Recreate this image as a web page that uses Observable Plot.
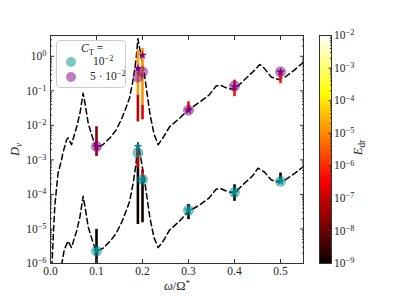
<!DOCTYPE html>
<html>
<head>
<meta charset="utf-8">
<script src="https://cdn.jsdelivr.net/npm/d3@7"></script>
<script src="https://cdn.jsdelivr.net/npm/@observablehq/plot@0.6"></script>
<style>
  body { margin: 0; background: #fff; }
  #wrap { position: relative; width: 407px; height: 296px; font-family: "Liberation Serif", serif; color: #222; }
  #wrap svg { position: absolute; left: 0; top: 0; }
  .lab { position: absolute; font-size: 12.5px; white-space: nowrap; line-height: 14px; }
  .lab i { font-style: italic; }
  #legend { position: absolute; left: 56px; top: 40px; width: 68px; height: 46px; border: 1px solid #ccc; border-radius: 4px; background: rgba(255,255,255,0.85); font-size: 11.5px; }
  #legend .sw { position: absolute; width: 10px; height: 10px; border-radius: 50%; }
  #legend .t { position: absolute; white-space: nowrap; }
  sup { font-size: 0.72em; vertical-align: 0; position: relative; top: -0.45em; }
  sub { font-size: 0.75em; vertical-align: 0; position: relative; top: 0.3em; }
</style>
</head>
<body>
<div id="wrap"></div>
<script>
// ---------- data (log10 values) ----------
const omegaHi = [0.003,0.0057,0.0093,0.0165,0.024,0.027,0.035,0.038,0.0457,0.057,0.064,0.071,0.075,0.082,0.093,0.1,0.114,0.13,0.143,0.155,0.165,0.172,0.18,0.186,0.19,0.197,0.205,0.216,0.225,0.234,0.245,0.259,0.28,0.299,0.325,0.345,0.36,0.37,0.385,0.4,0.42,0.44,0.455,0.465,0.48,0.495,0.51,0.53,0.55];
const logDHi   = [-6.1,-5.3,-4.34,-3.38,-3.0,-2.8,-2.42,-2.36,-2.56,-2.04,-1.65,-1.07,-1.36,-1.94,-2.42,-2.66,-2.56,-2.35,-2.13,-1.8,-1.46,-1.2,-0.65,-0.1,0.51,0.0,-0.6,-1.65,-2.25,-2.56,-2.35,-2.04,-1.8,-1.56,-1.32,-1.12,-0.86,-0.84,-0.93,-0.96,-0.7,-0.45,-0.24,-0.35,-0.6,-0.67,-0.6,-0.4,-0.17];
const omegaLo = [0.024,0.03,0.038,0.0456,0.057,0.064,0.071,0.075,0.082,0.093,0.1,0.114,0.13,0.143,0.155,0.165,0.172,0.18,0.186,0.19,0.197,0.205,0.216,0.225,0.234,0.245,0.259,0.28,0.299,0.325,0.345,0.36,0.37,0.385,0.4,0.42,0.44,0.451,0.465,0.48,0.495,0.51,0.53,0.55];
const logDLo   = [-6.05,-5.6,-5.35,-5.54,-5.05,-4.65,-4.05,-4.36,-4.94,-5.42,-5.64,-5.56,-5.35,-5.12,-4.8,-4.46,-4.2,-3.65,-3.1,-2.5,-3.0,-3.64,-4.67,-5.25,-5.54,-5.35,-5.03,-4.78,-4.5,-4.3,-4.1,-3.85,-3.83,-3.92,-3.96,-3.7,-3.45,-3.24,-3.35,-3.58,-3.64,-3.58,-3.4,-3.19];

const ptOmega   = [0.1,0.19,0.2,0.3,0.4,0.5];
const circHi    = [-2.61,-0.6,-0.45,-1.56,-0.86,-0.45];
const starHi    = [-2.61,-0.35,0.03,-1.56,-0.88,-0.45];
const circLo    = [-5.64,-2.8,-3.57,-4.46,-3.94,-3.62];
const starLo    = [-5.64,-2.61,-3.57,-4.46,-3.94,-3.62];

// error bar segments: omega, log lower, log upper, log10 E_dr
const barOmega = [0.1,  0.19, 0.19, 0.2,  0.2,  0.3,  0.4,  0.5,   0.1,  0.19, 0.19, 0.2,  0.2,  0.3,  0.4,  0.5];
const barLow   = [-2.9, -1.9, -1.12,-1.84,-1.41,-1.6, -1.17,-0.79, -6.2, -4.87,-3.23,-4.82,-3.66,-4.73,-4.2, -3.64];
const barHigh  = [-2.04,-1.12,0.17, -1.41,0.23, -1.32,-0.69,-0.42, -5.01,-2.85,-2.56,-3.57,-3.29,-4.29,-3.72,-3.38];
const barLogE  = [-7.6, -7.1, -4.8, -6.8, -4.9, -6.4, -6.3, -6.3,  -9,   -9,   -7.0, -9,   -7.0, -9,   -9,   -9];

const xTicks = [0, 0.1, 0.2, 0.3, 0.4, 0.5];
const xTickLabels = ["0.0","0.1","0.2","0.3","0.4","0.5"];
const yTickExp = [0,-1,-2,-3,-4,-5,-6];
const cTickExp = [-2,-3,-4,-5,-6,-7,-8,-9];

// ---------- helpers ----------
function hot(t) {
  t = Math.max(0, Math.min(1, t));
  const r = Math.min(1, 0.0416 + t * (1 - 0.0416) / 0.365079);
  const g = Math.max(0, Math.min(1, (t - 0.365079) / (0.746032 - 0.365079)));
  const b = Math.max(0, Math.min(1, (t - 0.746032) / (1 - 0.746032)));
  return d3.rgb(r * 255, g * 255, b * 255).formatHex();
}
const minus = s => String(s).replace("-", "\u2212");
function supify(svg) {
  svg.querySelectorAll("text").forEach(t => {
    const m = t.textContent.match(/^10\^(.+)$/);
    if (m) {
      t.textContent = "10";
      const ts = document.createElementNS("http://www.w3.org/2000/svg", "tspan");
      ts.setAttribute("dy", "-0.45em");
      ts.setAttribute("font-size", "0.72em");
      ts.textContent = m[1];
      t.appendChild(ts);
    }
  });
}
function minorTicks(e0, e1) {
  const out = [];
  for (let e = e0; e < e1; e++) for (let k = 2; k <= 9; k++) out.push(k * 10 ** e);
  return out;
}

const curveHi = omegaHi.map((w, i) => ({w, D: 10 ** logDHi[i]}));
const curveLo = omegaLo.map((w, i) => ({w, D: 10 ** logDLo[i]}));
const ptsHi = ptOmega.map((w, i) => ({w, c: 10 ** circHi[i], s: 10 ** starHi[i]}));
const ptsLo = ptOmega.map((w, i) => ({w, c: 10 ** circLo[i], s: 10 ** starLo[i]}));
const bars = barOmega.map((w, i) => ({w, y1: 10 ** barLow[i], y2: 10 ** barHigh[i], E: 10 ** barLogE[i]}));

const FONT = "Liberation Serif, serif";
const yMajor = yTickExp.map(e => 10 ** e);
const yMinor = minorTicks(-6, 1).filter(v => v <= 4);

const main = Plot.plot({
  width: 407, height: 296,
  marginLeft: 50, marginRight: 104, marginTop: 35, marginBottom: 33,
  style: {fontFamily: FONT, fontSize: "11.5px", color: "#222", background: "transparent"},
  x: {domain: [0, 0.55]},
  y: {type: "log", domain: [1e-6, 4]},
  color: {type: "log", domain: [1e-9, 1e-2], interpolate: hot},
  marks: [
    Plot.line(curveHi, {x: "w", y: "D", stroke: "black", strokeWidth: 1.5, strokeDasharray: "5.5,3.5", clip: true}),
    Plot.line(curveLo, {x: "w", y: "D", stroke: "black", strokeWidth: 1.5, strokeDasharray: "5.5,3.5", clip: true}),
    Plot.ruleX(bars, {x: "w", y1: "y1", y2: "y2", stroke: "E", strokeWidth: 2.6, clip: true}),
    Plot.dot(ptsHi, {x: "w", y: "c", r: 5.5, fill: "#800080", fillOpacity: 0.5, stroke: "none"}),
    Plot.dot(ptsLo, {x: "w", y: "c", r: 5.5, fill: "#008b8b", fillOpacity: 0.5, stroke: "none"}),
    Plot.dot(ptsHi, {x: "w", y: "s", r: 2.8, symbol: "star", fill: "#800080", stroke: "none"}),
    Plot.dot(ptsLo, {x: "w", y: "s", r: 2.8, symbol: "star", fill: "#008b8b", stroke: "none"}),
    Plot.frame({stroke: "#333", strokeWidth: 1}),
    Plot.axisX({anchor: "bottom", ticks: xTicks, tickSize: -4, tickPadding: 7, tickFormat: (d, i) => xTickLabels[i], label: null, stroke: "#333"}),
    Plot.axisX({anchor: "top", ticks: xTicks, tickSize: -4, tickFormat: () => "", label: null, stroke: "#333"}),
    Plot.axisY({anchor: "left", ticks: yMajor, tickSize: -4, tickPadding: 8, tickFormat: d => "10^" + minus(Math.round(Math.log10(d))), label: null, stroke: "#333"}),
    Plot.axisY({anchor: "left", ticks: yMinor, tickSize: -2, tickFormat: () => "", label: null, stroke: "#333"}),
    Plot.axisY({anchor: "right", ticks: yMajor, tickSize: -4, tickFormat: () => "", label: null, stroke: "#333"}),
    Plot.axisY({anchor: "right", ticks: yMinor, tickSize: -2, tickFormat: () => "", label: null, stroke: "#333"})
  ]
});
supify(main);

// colour bar
const cbSteps = d3.range(0, 280).map(i => {
  const a = -9 + 7 * i / 280, b = -9 + 7 * (i + 1) / 280;
  return {y1: 10 ** a, y2: 10 ** b, v: 10 ** ((a + b) / 2)};
});
const cMajor = cTickExp.map(e => 10 ** e);
const cMinor = minorTicks(-9, -2);
const cbar = Plot.plot({
  width: 407, height: 296,
  marginLeft: 319, marginRight: 76, marginTop: 35, marginBottom: 33,
  style: {fontFamily: FONT, fontSize: "11.5px", color: "#222", background: "transparent"},
  x: {domain: [0, 1], axis: null},
  y: {type: "log", domain: [1e-9, 1e-2]},
  color: {type: "log", domain: [1e-9, 1e-2], interpolate: hot},
  marks: [
    Plot.rect(cbSteps, {x1: 0, x2: 1, y1: "y1", y2: "y2", fill: "v", inset: 0, shapeRendering: "crispEdges"}),
    Plot.frame({stroke: "#333", strokeWidth: 1}),
    Plot.axisY({anchor: "right", ticks: cMajor, tickSize: -3.5, tickPadding: 6, tickFormat: d => "10^" + minus(Math.round(Math.log10(d))), label: null, stroke: "#333"}),
    Plot.axisY({anchor: "right", ticks: cMinor, tickSize: -2, tickFormat: () => "", label: null, stroke: "#333"})
  ]
});
supify(cbar);

const wrap = document.getElementById("wrap");
wrap.appendChild(main);
wrap.appendChild(cbar);
wrap.insertAdjacentHTML("beforeend", `
  <div class="lab" style="left:9px; top:142px; transform: rotate(-90deg); transform-origin: center;"><i>D</i><sub><i>ν</i></sub></div>
  <div class="lab" style="left:164px; top:279px;"><i>ω</i>/Ω<sup>*</sup></div>
  <div class="lab" style="left:351px; top:140px; transform: rotate(-90deg); transform-origin: center;"><i>E</i><sub>dr</sub></div>
  <div id="legend">
    <div class="t" style="left:24px; top:1px;"><i>C</i><sub>T</sub> =</div>
    <div class="sw" style="left:9px; top:16px; background: rgba(0,139,139,0.5);"></div>
    <div class="t" style="left:36px; top:14px;">10<sup>\u22122</sup></div>
    <div class="sw" style="left:9px; top:31px; background: rgba(128,0,128,0.5);"></div>
    <div class="t" style="left:33px; top:29px;">5 · 10<sup>\u22122</sup></div>
  </div>
`);
</script>
</body>
</html>
